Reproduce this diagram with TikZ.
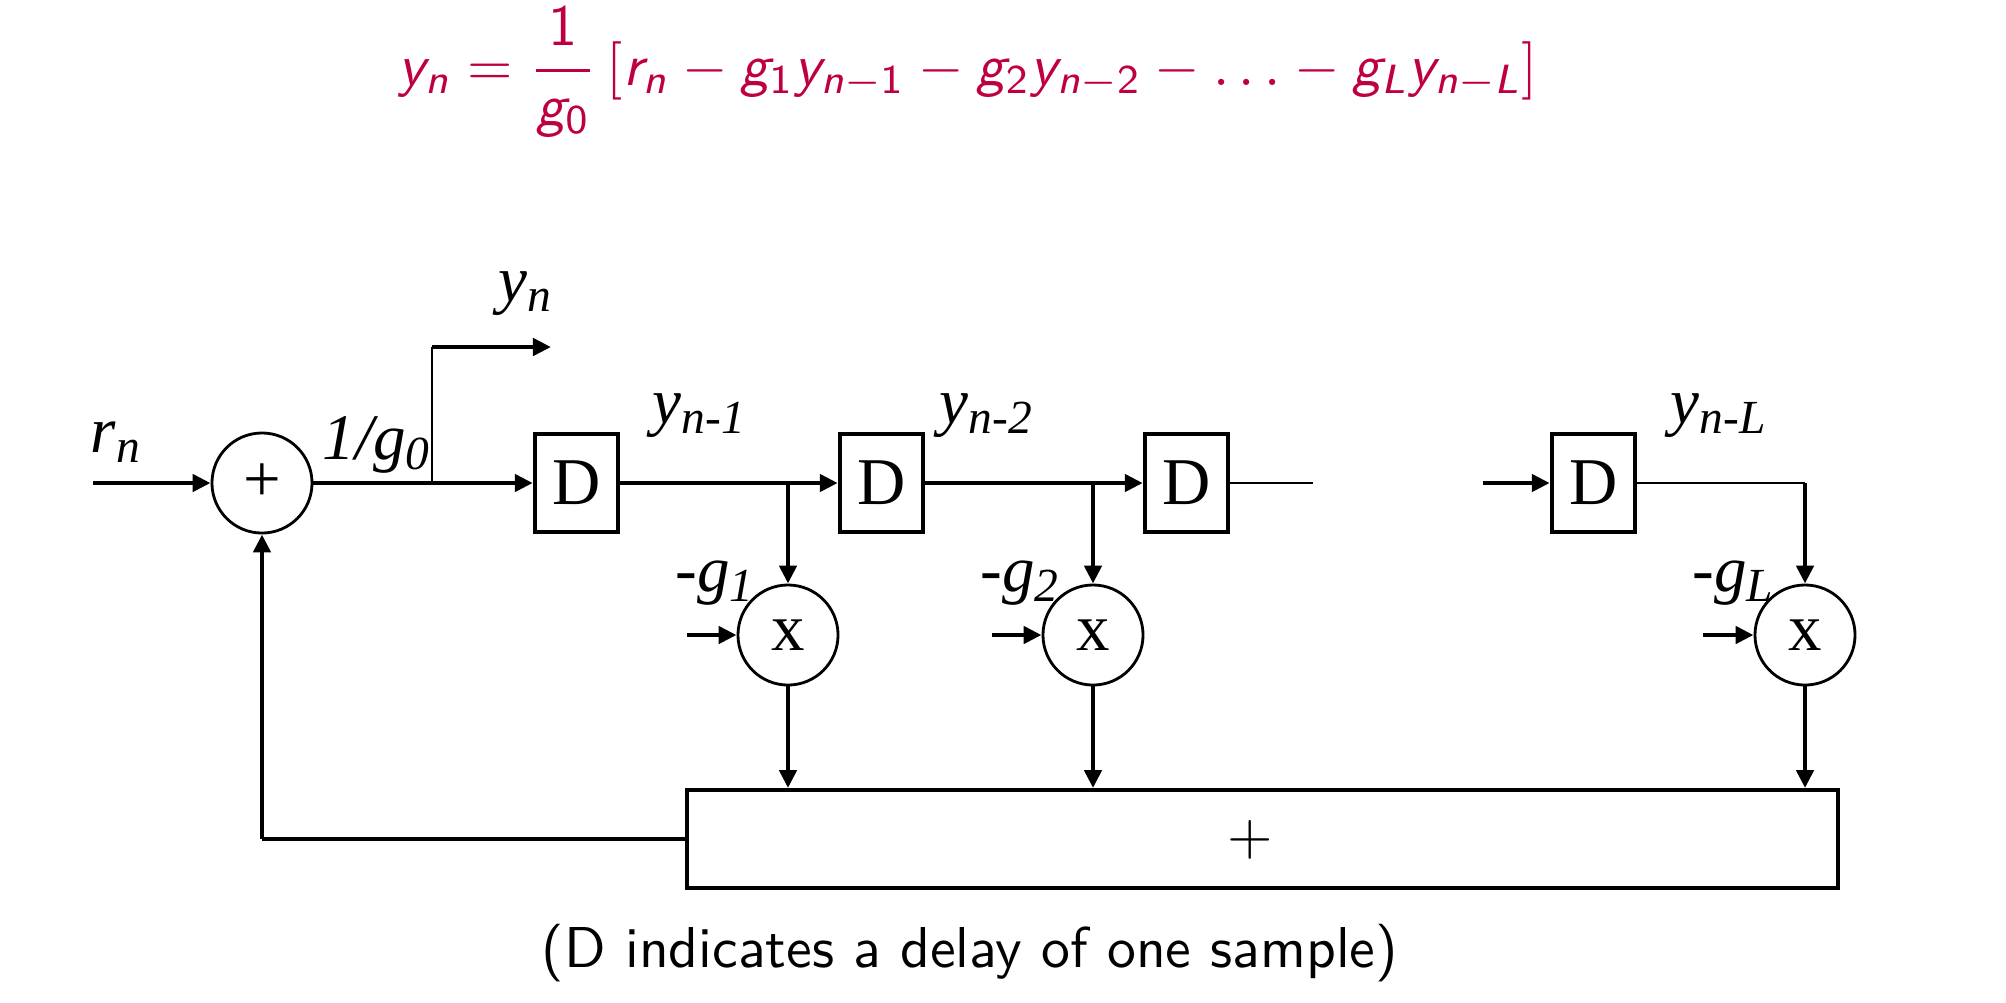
\documentclass[tikz,border=0pt]{standalone}
\usepackage{fontspec}
\newfontfamily\tnr{Liberation Serif}
\usetikzlibrary{arrows.meta}
\DeclareMathAlphabet{\mathsfit}{OT1}{cmss}{m}{sl}
\DeclareMathAlphabet{\mathsfup}{OT1}{cmss}{m}{n}
\definecolor{eqcol}{RGB}{191,0,64}
\newcommand{\myy}{\mathsfit{y}}
\newcommand{\myg}{\mathsfit{g}}
\newcommand{\myr}{\mathsfit{r}}
\newcommand{\myn}{\mathsfit{n}}
\newcommand{\myL}{\mathsfit{L}}
\newcommand{\sbs}[1]{\raisebox{-0.1cm}{\fontsize{13.5}{15}\selectfont #1}}
\begin{document}
\begin{tikzpicture}[x=0.01cm,y=-0.01cm,
  thk/.style={line width=1.3pt},
  thn/.style={line width=0.6pt},
  arr/.style={-{Triangle[length=0.18cm,width=0.17cm]}},
  dbox/.style={draw, line width=1.25pt, minimum width=0.83cm, minimum height=0.98cm, inner sep=0pt, font=\fontsize{19}{21}\selectfont\tnr},
  circ/.style={draw, circle, line width=0.8pt, minimum size=1.0cm, inner sep=0pt, font=\fontsize{19}{21}\selectfont\tnr},
  lab/.style={font=\fontsize{18.5}{20}\selectfont\tnr\itshape, inner sep=0pt, anchor=base west}]
\useasboundingbox (0,0) rectangle (2006,1002);

% formula
\node[text=eqcol, font=\fontsize{10}{12}\selectfont, anchor=base, inner sep=0pt] (eq) at (968,85)
 {\scalebox{1.66}{$\displaystyle \myy_{\myn} = \frac{\mathsfup{1}}{\myg_{\mathsfup{0}}}\left[\myr_{\myn} - \myg_{\mathsfup{1}}\myy_{\myn-\mathsfup{1}} - \myg_{\mathsfup{2}}\myy_{\myn-\mathsfup{2}} - \ldots - \myg_{\myL}\myy_{\myn-\myL}\right]$}};

% blocks
\node[circ] (sum) at (262,483) {+};
\node[dbox] (D1) at (576.5,483) {D};
\node[dbox] (D2) at (881.5,483) {D};
\node[dbox] (D3) at (1186.5,483) {D};
\node[dbox] (D4) at (1593.5,483) {D};
\node[circ] (m1) at (788,635) {x};
\node[circ] (m2) at (1093,635) {x};
\node[circ] (mL) at (1805,635) {x};
\node[draw, line width=1.1pt, minimum width=11.5cm, minimum height=0.98cm, inner sep=0pt] (sumbox) at (1262.5,839) {};
\node[font=\sffamily\fontsize{10}{12}\selectfont, inner sep=0pt] (sumplus) at (1250,840) {\scalebox{1.66}{+}};

% coordinates
\coordinate (rin) at (93,483);
\coordinate (b0) at (432,483);
\coordinate (yc) at (432,347);
\coordinate (yout) at (551,347);
\coordinate (b1) at (788,483);
\coordinate (b2) at (1093,483);
\coordinate (d3e) at (1313,483);
\coordinate (d4i) at (1483,483);
\coordinate (bL) at (1805,483);
\coordinate (i1) at (687,635);
\coordinate (i2) at (992,635);
\coordinate (iL) at (1703,635);
\coordinate (fb) at (262,839);

% connectors
\draw[thk,arr] (rin) -- (sum.west);
\draw[thk,arr] (sum.east) -- (D1.west);
\draw[thn] (b0) -- (yc);
\draw[thk,arr] (yc) -- (yout);
\draw[thk,arr] (D1.east) -- (D2.west);
\draw[thk,arr] (D2.east) -- (D3.west);
\draw[thn] (D3.east) -- (d3e);
\draw[thk,arr] (d4i) -- (D4.west);
\draw[thn] (D4.east) -- (bL);
\draw[thk,arr] (bL) -- (mL.north);
\draw[thk,arr] (b1) -- (m1.north);
\draw[thk,arr] (b2) -- (m2.north);
\draw[thk,arr] (i1) -- (m1.west);
\draw[thk,arr] (i2) -- (m2.west);
\draw[thk,arr] (iL) -- (mL.west);
\draw[thk,arr] (m1.south) -- (m1.south |- sumbox.north);
\draw[thk,arr] (m2.south) -- (m2.south |- sumbox.north);
\draw[thk,arr] (mL.south) -- (mL.south |- sumbox.north);
\draw[line width=0.9pt] (sumbox.west) -- (fb);
\draw[thk,arr] (fb) -- (sum.south);

% labels
\node[lab] (lrn) at (90,452) {r\sbs{n}};
\node[lab] (lg0) at (322,459) {1/g\sbs{0}};
\node[lab] (lyn) at (498,301) {y\sbs{n}};
\node[lab] (ly1) at (652,423) {y\sbs{n-1}};
\node[lab] (ly2) at (939,423) {y\sbs{n-2}};
\node[lab] (lyL) at (1670,423) {y\sbs{n-L}};
\node[lab] (lg1) at (675,591) {-g\sbs{1}};
\node[lab] (lg2) at (980,591) {-g\sbs{2}};
\node[lab] (lgL) at (1692,591) {-g\sbs{L}};

% caption
\node[font=\sffamily\fontsize{10}{12}\selectfont, anchor=base, inner sep=0pt] (cap) at (970,967) {\scalebox{1.64}{(D indicates a delay of one sample)}};
\end{tikzpicture}
\end{document}
